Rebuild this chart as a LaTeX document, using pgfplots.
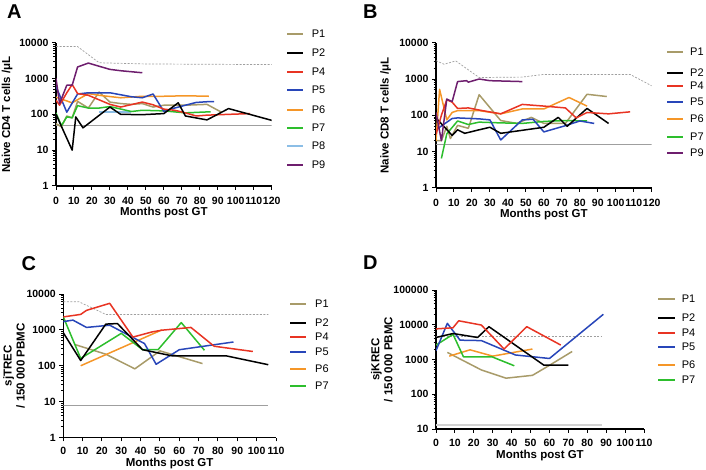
\documentclass[border=0pt]{standalone}
\usepackage{fontspec}
\setmainfont{Liberation Sans}
\usepackage{pgfplots}
\pgfplotsset{compat=1.18}
\definecolor{cP1}{RGB}{168,155,105}
\definecolor{cP2}{RGB}{0,0,0}
\definecolor{cP4}{RGB}{232,52,35}
\definecolor{cP5}{RGB}{40,70,185}
\definecolor{cP6}{RGB}{245,150,40}
\definecolor{cP7}{RGB}{45,190,45}
\definecolor{cP8}{RGB}{140,190,230}
\definecolor{cP9}{RGB}{110,30,110}
\newcommand{\legfont}{\fontsize{11}{13}\selectfont}
\newcommand{\li}[6]{%
  \draw[#1,line width=2pt] (#2pt,-#5pt) -- (#3pt,-#5pt);
  \node[anchor=west,inner sep=0pt,font=\legfont] at (#4pt,-#5pt) {#6};}
\pgfkeys{/pgf/number format/assume math mode=true}
\pgfplotsset{
  every axis/.append style={
    scale only axis, axis lines*=left,
    axis line style={line width=1.4pt,-},
    tick align=outside, major tick length=4pt, minor tick length=2.5pt,
    every tick/.style={line width=1pt,black},
    tick label style={font=\fontsize{10.5}{12}\selectfont\bfseries},
    xticklabel style={yshift=-3.5pt},
    label style={font=\fontsize{11.5}{13}\selectfont\bfseries},
    xlabel={Months post GT},
    enlargelimits=false,
  },
  every axis plot/.append style={line width=1.5pt, line join=round},
  refd/.style={color=gray!75, line width=0.7pt, dash pattern=on 2pt off 1.5pt},
  refs/.style={color=gray!75, line width=1pt},
}
\begin{document}
\begin{tikzpicture}
\useasboundingbox (0,0) rectangle (706pt,-470pt);
% ---------------- A
\begin{axis}[ymode=log, no markers, at={(56pt,-186pt)}, anchor=south west,
  width=215.7pt, height=143.3pt, xmin=0, xmax=120, ymin=1, ymax=10000,
  xtick={0,10,...,120},
  ytick={1,10,100,1000,10000}, yticklabels={1,10,100,1000,10000},
  minor ytick={2,3,4,5,6,7,8,9,20,30,40,50,60,70,80,90,200,300,400,500,600,700,800,900,2000,3000,4000,5000,6000,7000,8000,9000},
  ylabel={Naive CD4 T cells /μL},
  ylabel style={at={(axis description cs:-0.227,0.5)}, anchor=center},
  xlabel style={at={(axis description cs:0.5,-0.206)}, anchor=base}]
\addplot[refd] coordinates {(0,7800) (12,7800) (24,2750) (50,2550) (120,2450)};
\addplot[refs] coordinates {(0,50) (120,50)};
\addplot[cP8] coordinates {(24,115) (42,115)};
\addplot[cP1] coordinates {(0,55) (3,45) (6,90) (9,80) (12,230) (18,150) (24,420) (30,220) (36,200) (42,190) (48,200) (54,160) (60,180) (72,180) (84,190) (92,115)};
\addplot[cP7] coordinates {(0,110) (3,48) (6,85) (9,80) (12,175) (18,150) (24,150) (30,165) (42,120) (48,130) (60,125) (72,110) (86,118)};
\addplot[cP6] coordinates {(0,300) (9,210) (18,380) (24,340) (36,290) (48,320) (60,320) (72,330) (85,320)};
\addplot[cP5] coordinates {(0,600) (6,115) (12,370) (18,400) (30,400) (42,310) (48,290) (54,370) (60,120) (66,150) (72,180) (78,215) (84,225) (88,225)};
\addplot[cP4] coordinates {(0,250) (2,180) (6,400) (9,680) (12,380) (18,340) (30,190) (36,160) (48,220) (54,185) (60,140) (66,130) (72,110) (78,90) (84,95) (96,100) (108,105)};
\addplot[cP2] coordinates {(0,100) (9,10) (11,85) (15,42) (30,160) (36,100) (48,98) (60,105) (68,210) (72,90) (84,70) (96,145) (120,68)};
\addplot[cP9] coordinates {(0,1000) (2,200) (6,650) (9,650) (12,2100) (18,2700) (24,2200) (30,1800) (36,1650) (48,1450)};
\end{axis}
% ---------------- B
\begin{axis}[ymode=log, no markers, at={(436pt,-188pt)}, anchor=south west,
  width=215.7pt, height=145.3pt, xmin=0, xmax=120, ymin=1, ymax=10000,
  xtick={0,10,...,120},
  ytick={1,10,100,1000,10000}, yticklabels={1,10,100,1000,10000},
  minor ytick={2,3,4,5,6,7,8,9,20,30,40,50,60,70,80,90,200,300,400,500,600,700,800,900,2000,3000,4000,5000,6000,7000,8000,9000},
  ylabel={Naive CD8 T cells /μL},
  ylabel style={at={(axis description cs:-0.234,0.5)}, anchor=center},
  xlabel style={at={(axis description cs:0.5,-0.203)}, anchor=base}]
\addplot[refd] coordinates {(0,3200) (4.5,2550) (11,3150) (24,1100) (48,1130) (60,1340) (108,1340) (120,650)};
\addplot[refs] coordinates {(0,16) (120,16)};
\addplot[cP1] coordinates {(0,20) (3,20) (6,50) (8,23) (12,53) (18,44) (24,370) (36,72) (45,60) (53,88) (60,60) (72,60) (84,380) (95,330)};
\addplot[cP7] coordinates {(3,6.5) (6,31) (12,70) (18,56) (24,65) (36,62) (48,60) (60,68) (72,72) (84,70)};
\addplot[cP5] coordinates {(0,40) (9,82) (12,85) (24,80) (30,75) (36,21) (48,75) (54,78) (60,35) (72,52) (80,70) (88,60)};
\addplot[cP2] coordinates {(0,85) (9,28) (12,40) (16,32) (24,40) (30,47) (36,32) (60,47) (68,88) (73,50) (84,155) (96,60)};
\addplot[cP6] coordinates {(0,20) (2,520) (6,75) (9,120) (12,135) (24,135) (36,110) (48,150) (60,150) (74,310) (84,180)};
\addplot[cP4] coordinates {(0,30) (3,100) (6,270) (9,230) (12,155) (18,160) (24,140) (36,110) (48,200) (60,180) (72,160) (78,85) (84,120) (96,110) (108,125)};
\addplot[cP9] coordinates {(0,120) (3,20) (6,280) (9,240) (12,850) (17,900) (18,820) (24,1000) (30,900) (48,850)};
\end{axis}
% ---------------- C
\begin{axis}[ymode=log, no markers, at={(63.3pt,-437.5pt)}, anchor=south west,
  width=212.7pt, height=143.5pt, xmin=0, xmax=110, ymin=1, ymax=10000,
  xtick={0,10,...,110}, xticklabel style={yshift=1pt},
  ytick={1,10,100,1000,10000}, yticklabels={1,10,100,1000,10000},
  minor ytick={2,3,4,5,6,7,8,9,20,30,40,50,60,70,80,90,200,300,400,500,600,700,800,900,2000,3000,4000,5000,6000,7000,8000,9000},
  ylabel={sjTREC\\/ 150 000 PBMC},
  ylabel style={at={(axis description cs:-0.232,0.5)}, anchor=center, align=center},
  xlabel style={at={(axis description cs:0.5,-0.199)}, anchor=base}]
\addplot[refd] coordinates {(0,6100) (8,6100) (22,2700) (106,2700)};
\addplot[refs] coordinates {(0,8) (106,8)};
\addplot[cP1] coordinates {(6,390) (22,210) (37,82) (50,260) (72,115)};
\addplot[cP6] coordinates {(9,100) (51,1000)};
\addplot[cP7] coordinates {(0,2300) (9,160) (30,800) (41,280) (49,280) (61,1600) (73,270)};
\addplot[cP5] coordinates {(0,1700) (5,1870) (12,1170) (24,1350) (42,415) (48,110) (60,280) (88,460)};
\addplot[cP2] coordinates {(0,830) (9,140) (22,1450) (28,1500) (41,280) (56,190) (84,190) (106,107)};
\addplot[cP4] coordinates {(0,2300) (9,2700) (12,3500) (24,5500) (36,630) (46,880) (51,980) (66,1170) (78,350) (98,250)};
\end{axis}
% ---------------- D
\begin{axis}[ymode=log, no markers, at={(436pt,-429pt)}, anchor=south west,
  width=208pt, height=139pt, xmin=0, xmax=110, ymin=10, ymax=100000,
  xtick={0,10,...,110}, xticklabel style={yshift=1pt},
  ytick={10,100,1000,10000,100000}, yticklabels={10,100,1000,10000,100000},
  minor ytick={20,30,40,50,60,70,80,90,200,300,400,500,600,700,800,900,2000,3000,4000,5000,6000,7000,8000,9000,20000,30000,40000,50000,60000,70000,80000,90000},
  ylabel={sjKREC\\/ 150 000 PBMC},
  ylabel style={at={(axis description cs:-0.26,0.5)}, anchor=center, align=center},
  xlabel style={at={(axis description cs:0.5,-0.212)}, anchor=base}]
\addplot[refd] coordinates {(0,4650) (88,4650)};
\addplot[color=gray!35, line width=2pt] coordinates {(0,13) (88,13)};
\addplot[cP1] coordinates {(6,1600) (24,500) (37,290) (51,350) (60,680) (72,1700)};
\addplot[cP6] coordinates {(7,1250) (18,1900) (30,1250) (51,2000)};
\addplot[cP7] coordinates {(0,2600) (9,5300) (14.5,1200) (29.5,1200) (41.4,660)};
\addplot[cP5] coordinates {(0,1800) (6,11000) (12.7,3600) (24,3500) (42,1350) (60,1070) (88.5,20000)};
\addplot[cP2] coordinates {(0,4300) (9,5600) (22,4300) (28,8800) (57,690) (70,690)};
\addplot[cP4] coordinates {(0,7600) (9,8200) (12,13000) (24,9800) (36,2000) (48,8800) (66,2600)};
\end{axis}
% panel letters
\node[anchor=north west,inner sep=0pt,font=\fontsize{20}{20}\selectfont\bfseries] at (7pt,-5pt) {A};
\node[anchor=north west,inner sep=0pt,font=\fontsize{20}{20}\selectfont\bfseries] at (363pt,-5pt) {B};
\node[anchor=north west,inner sep=0pt,font=\fontsize{20}{20}\selectfont\bfseries] at (21.5pt,-256pt) {C};
\node[anchor=north west,inner sep=0pt,font=\fontsize{20}{20}\selectfont\bfseries] at (363pt,-256pt) {D};
% legends
\li{cP1}{287}{303}{311.7}{34}{P1}
\li{cP2}{287}{303}{311.7}{53}{P2}
\li{cP4}{287}{303}{311.7}{72}{P4}
\li{cP5}{287}{303}{311.7}{90}{P5}
\li{cP6}{287}{303}{311.7}{110}{P6}
\li{cP7}{287}{303}{311.7}{128}{P7}
\li{cP8}{287}{303}{311.7}{146}{P8}
\li{cP9}{287}{303}{311.7}{165}{P9}
\li{cP1}{667}{683}{690}{52}{P1}
\li{cP2}{667}{683}{690}{73}{P2}
\li{cP4}{667}{683}{690}{86}{P4}
\li{cP5}{667}{683}{690}{102}{P5}
\li{cP6}{667}{683}{690}{119}{P6}
\li{cP7}{667}{683}{690}{137}{P7}
\li{cP9}{667}{683}{690}{153}{P9}
\li{cP1}{290}{306}{315}{304}{P1}
\li{cP2}{290}{306}{315}{323}{P2}
\li{cP4}{290}{306}{315}{337}{P4}
\li{cP5}{290}{306}{315}{352}{P5}
\li{cP6}{290}{306}{315}{369}{P6}
\li{cP7}{290}{306}{315}{386}{P7}
\li{cP1}{658}{675}{681.7}{299}{P1}
\li{cP2}{658}{675}{681.7}{318}{P2}
\li{cP4}{658}{675}{681.7}{333}{P4}
\li{cP5}{658}{675}{681.7}{347}{P5}
\li{cP6}{658}{675}{681.7}{365}{P6}
\li{cP7}{658}{675}{681.7}{380}{P7}
\end{tikzpicture}
\end{document}
